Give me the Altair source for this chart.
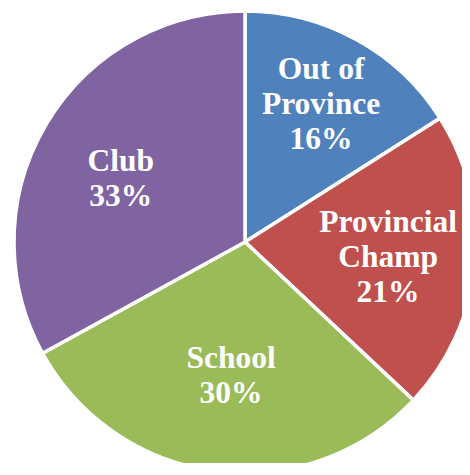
import altair as alt
import pandas as pd

categories = ["Out of Province", "Provincial Champ", "School", "Club"]
labels = ["Out of\nProvince\n16%", "Provincial\nChamp\n21%", "School\n30%", "Club\n33%"]
values = [16, 21, 30, 33]
colors = ["#4F81BD", "#C0504D", "#9BBB59", "#8064A2"]

# label placement relative to each slice's mid-angle (layout only)
label_radius = [157, 144, 135, 139]
label_turn = [0.2, 1.0, -1.3, -4.0]  # degrees
LINE_H = 35
CX, CY, R = 237, 234, 231
W, H = 454, 455

df = pd.DataFrame({
    "category": categories,
    "label": labels,
    "value": values,
    "order": list(range(len(categories))),
})

pie = alt.Chart(df).mark_arc(outerRadius=R, stroke="white", strokeWidth=3.5).encode(
    theta=alt.Theta("value:Q", stack=True),
    order=alt.Order("order:Q"),
    color=alt.Color("category:N", scale=alt.Scale(domain=categories, range=colors), legend=None),
    x=alt.value(CX),
    y=alt.value(CY),
)

radius_expr = "[" + ",".join(str(r) for r in label_radius) + "][datum.order]"
turn_expr = "[" + ",".join(str(t) for t in label_turn) + "][datum.order]"

text = alt.Chart(df).transform_joinaggregate(
    total="sum(value)"
).transform_window(
    cum="sum(value)", sort=[alt.SortField("order")], frame=[None, 0]
).transform_calculate(
    ang=f"(datum.cum - datum.value / 2) / datum.total * 2 * PI + {turn_expr} * PI / 180",
    r=radius_expr,
    nl="length(split(datum.label, '\\n'))",
).transform_calculate(
    lx="datum.r * sin(datum.ang)",
    ly=f"datum.r * cos(datum.ang) + (datum.nl - 1) / 2 * {LINE_H}",
).mark_text(
    font="Liberation Serif", fontWeight="bold", fontSize=31.5, color="white",
    lineBreak="\n", lineHeight=LINE_H, align="center", baseline="middle",
).encode(
    text="label:N",
    x=alt.X("lx:Q", scale=alt.Scale(domain=[-CX, W - CX]), axis=None),
    y=alt.Y("ly:Q", scale=alt.Scale(domain=[CY - H, CY]), axis=None),
)

chart = alt.layer(pie, text).properties(
    width=W, height=H, padding=0, autosize=alt.AutoSizeParams(type="none")
).configure_view(stroke=None)

chart.save("out.html", embed_options={"renderer": "svg", "actions": False})
